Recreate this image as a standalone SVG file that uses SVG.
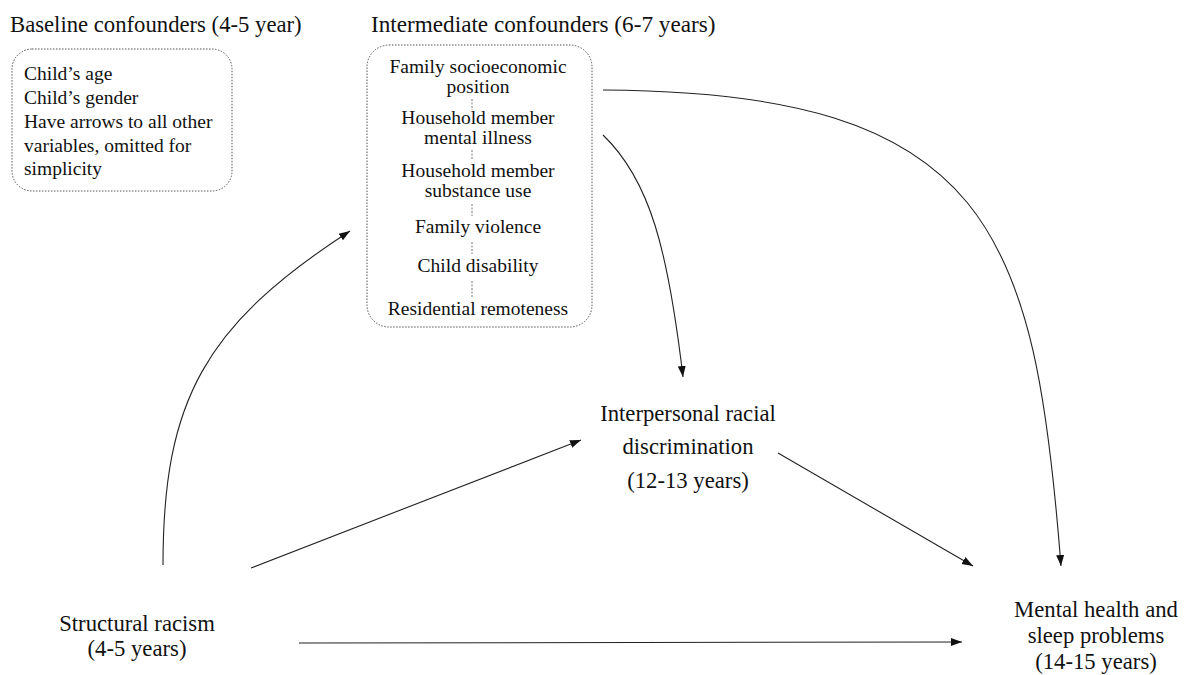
<svg xmlns="http://www.w3.org/2000/svg" width="1184" height="675" viewBox="0 0 1184 675">
<style>
text{font-family:'Liberation Serif','DejaVu Serif',serif;fill:#111}
.title{font-size:22.7px}
.box{fill:none;stroke:#555;stroke-width:1;stroke-dasharray:1.5 1.5}
.bt{font-size:19.5px}
.ct{font-size:19.5px;text-anchor:middle}
.nt{font-size:22.7px;text-anchor:middle}
.sep{stroke:#777;stroke-width:1;stroke-dasharray:2 1.5}
.edge{fill:none;stroke:#222;stroke-width:1.1;marker-end:url(#ah)}
</style>
<defs>
<marker id="ah" markerUnits="userSpaceOnUse" markerWidth="12" markerHeight="10" viewBox="0 0 12 10" refX="11" refY="5" orient="auto">
<path d="M0,1 L11,5 L0,9 Z" fill="#111"/>
</marker>
</defs>
<rect width="1184" height="675" fill="#fff"/>

<g id="baseline">
<text class="title" x="10" y="32">Baseline confounders (4-5 year)</text>
<rect class="box" x="12" y="49" width="220" height="142" rx="20"/>
<text class="bt" x="24" y="80">Child’s age</text>
<text class="bt" x="24" y="104">Child’s gender</text>
<text class="bt" x="24" y="128">Have arrows to all other</text>
<text class="bt" x="24" y="152">variables, omitted for</text>
<text class="bt" x="24" y="175">simplicity</text>
</g>

<g id="intermediate">
<text class="title" x="371" y="32" style="font-size:23.2px">Intermediate confounders (6-7 years)</text>
<rect class="box" x="367" y="45" width="225" height="282" rx="22"/>
<text class="ct" x="478" y="73">Family socioeconomic<tspan x="478" dy="20">position</tspan></text>
<line class="sep" x1="472" y1="99" x2="472" y2="110"/>
<text class="ct" x="478" y="124">Household member<tspan x="478" dy="20">mental illness</tspan></text>
<line class="sep" x1="472" y1="150" x2="472" y2="160"/>
<text class="ct" x="478" y="177">Household member<tspan x="478" dy="20">substance use</tspan></text>
<line class="sep" x1="472" y1="204" x2="472" y2="216"/>
<text class="ct" x="478" y="233">Family violence</text>
<line class="sep" x1="472" y1="242" x2="472" y2="254"/>
<text class="ct" x="478" y="272">Child disability</text>
<line class="sep" x1="472" y1="281" x2="472" y2="298"/>
<text class="ct" x="478" y="315">Residential remoteness</text>
</g>

<g id="interpersonal">
<text class="nt" x="688" y="421">Interpersonal racial</text>
<text class="nt" x="688" y="454">discrimination</text>
<text class="nt" x="688" y="488">(12-13 years)</text>
</g>

<g id="structural">
<text class="nt" x="137" y="631">Structural racism</text>
<text class="nt" x="137" y="656">(4-5 years)</text>
</g>

<g id="outcome">
<text class="nt" x="1096" y="617">Mental health and</text>
<text class="nt" x="1096" y="643">sleep problems</text>
<text class="nt" x="1096" y="669">(14-15 years)</text>
</g>

<g id="connectors">
<path class="edge" d="M163,565 C163,400 205,325 350,231"/>
<path class="edge" d="M251,568 L581,440"/>
<path class="edge" d="M299,643 L962,642"/>
<path class="edge" d="M778,453 L973,566"/>
<path class="edge" d="M603,135 C650,180 668,250 683,377"/>
<path class="edge" d="M603,90 C990,92 1035,230 1061,566"/>
</g>
</svg>
